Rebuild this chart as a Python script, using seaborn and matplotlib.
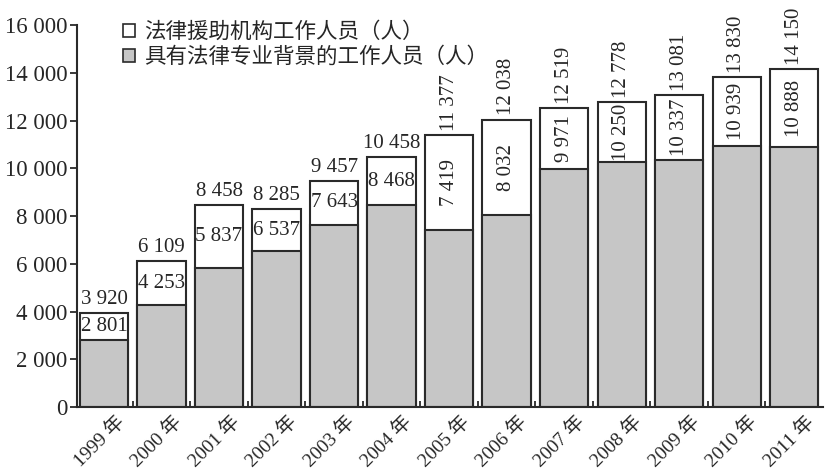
import matplotlib
matplotlib.use("Agg")
import matplotlib.pyplot as plt
import matplotlib.transforms as mtransforms
from matplotlib.patches import Patch
from matplotlib.ticker import FuncFormatter, FixedLocator
import seaborn as sns
import pandas as pd

years = ["1999 年", "2000 年", "2001 年", "2002 年", "2003 年", "2004 年", "2005 年",
         "2006 年", "2007 年", "2008 年", "2009 年", "2010 年", "2011 年"]
total_staff = [3920, 6109, 8458, 8285, 9457, 10458, 11377, 12038, 12519, 12778, 13081, 13830, 14150]
legal_staff = [2801, 4253, 5837, 6537, 7643, 8468, 7419, 8032, 9971, 10250, 10337, 10939, 10888]
legend_labels = ["法律援助机构工作人员（人）", "具有法律专业背景的工作人员（人）"]

sns.set_style("ticks")
plt.rcParams['font.family'] = ['Liberation Serif', 'Noto Sans CJK SC', 'DejaVu Sans']

df = pd.DataFrame({"year": years, "total": total_staff, "legal": legal_staff})

fig = plt.figure(figsize=(8.25, 4.73), dpi=100)
ax = fig.add_axes([0.0933, 0.1395, 0.9043, 0.8075])

edge = "#2a2a2a"
gray = "#c6c6c6"
sns.barplot(data=df, x="year", y="total", color="white", edgecolor=edge, linewidth=1.5,
            width=0.84, saturation=1, ax=ax)
sns.barplot(data=df, x="year", y="legal", color=gray, edgecolor=edge, linewidth=1.5,
            width=0.84, saturation=1, ax=ax)

ax.set_xlim(-0.47, 12.5)
ax.set_ylim(0, 16000)
ax.set_yticks(range(0, 16001, 2000))
ax.yaxis.set_major_formatter(FuncFormatter(lambda v, p: f"{int(v):,}".replace(",", " ")))
ax.set_xlabel("")
ax.set_ylabel("")

sns.despine(ax=ax, top=True, right=True)
for s in ["left", "bottom"]:
    ax.spines[s].set_linewidth(1.5)
    ax.spines[s].set_color(edge)

ax.tick_params(axis="y", labelsize=16.5, length=5, width=1.3, color=edge, pad=2)
ax.tick_params(axis="x", which="major", length=0, labelsize=14, pad=4)
ax.xaxis.set_minor_locator(FixedLocator([i + 0.5 for i in range(len(years) - 1)]))
ax.tick_params(axis="x", which="minor", direction="in", length=4, width=1.3, color=edge)

offset = mtransforms.ScaledTranslation(11 / 100, 0, fig.dpi_scale_trans)
for lab in ax.get_xticklabels():
    lab.set_rotation(45)
    lab.set_ha("right")
    lab.set_rotation_mode("anchor")
    lab.set_transform(lab.get_transform() + offset)

fmt = lambda v: f"{v:,}".replace(",", " ")
for i, (t, l) in enumerate(zip(total_staff, legal_staff)):
    mid = (t + l) / 2
    if i < 6:
        ax.annotate(fmt(t), (i, t), xytext=(0, 3), textcoords="offset points",
                    ha="center", va="bottom", fontsize=15)
        ax.text(i, mid, fmt(l), ha="center", va="center", fontsize=15)
    else:
        ax.annotate(fmt(t), (i, t), xytext=(0, 3), textcoords="offset points",
                    ha="center", va="bottom", fontsize=15, rotation=90)
        ax.text(i, mid, fmt(l), ha="center", va="center", fontsize=15, rotation=90)

handles = [Patch(facecolor="white", edgecolor=edge, linewidth=1.2),
           Patch(facecolor=gray, edgecolor=edge, linewidth=1.2)]
ax.legend(handles, legend_labels, loc="upper left", bbox_to_anchor=(0.05, 1.03),
          frameon=False, fontsize=15.5, handlelength=0.55, handleheight=0.55,
          handletextpad=0.45, labelspacing=0.2, borderaxespad=0)

fig.savefig("out.png", dpi=100, facecolor="white")
